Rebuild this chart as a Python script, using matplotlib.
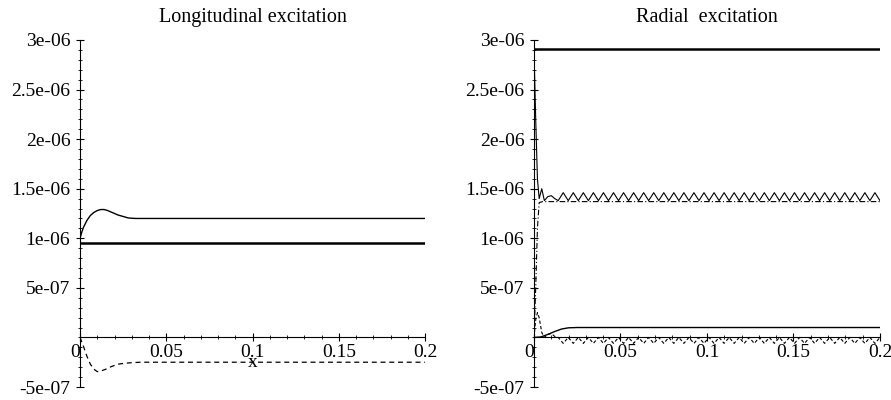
import numpy as np
import matplotlib
matplotlib.use('Agg')
import matplotlib.pyplot as plt
from matplotlib.ticker import MultipleLocator

plt.rcParams['font.family'] = ['Liberation Serif', 'DejaVu Serif']

# values in units of 1e-06
ytick_vals = [-0.5, 0.5, 1.0, 1.5, 2.0, 2.5, 3.0]
ytick_labels = ['-5e-07', '5e-07', '1e-06', '1.5e-06', '2e-06', '2.5e-06', '3e-06']
xtick_vals = [0, 0.05, 0.1, 0.15, 0.2]
xtick_labels = ['0', '0.05', '0.1', '0.15', '0.2']

# longitudinal excitation
long_flat_x = [0, 0.2]
long_flat_y = [0.95, 0.95]
long_solid_x = [0, 0.001, 0.002, 0.004, 0.006, 0.008, 0.010, 0.012, 0.014, 0.016, 0.018,
                0.020, 0.022, 0.025, 0.028, 0.032, 0.04, 0.06, 0.1, 0.15, 0.2]
long_solid_y = [1.0, 1.06, 1.11, 1.18, 1.23, 1.26, 1.28, 1.29, 1.29, 1.28, 1.265,
                1.25, 1.235, 1.22, 1.205, 1.20, 1.20, 1.20, 1.20, 1.20, 1.20]
long_dash_x = [0, 0.002, 0.004, 0.006, 0.008, 0.010, 0.012, 0.015, 0.018, 0.022,
               0.026, 0.030, 0.035, 0.04, 0.06, 0.1, 0.15, 0.2]
long_dash_y = [0.0, -0.09, -0.19, -0.27, -0.32, -0.345, -0.34, -0.32, -0.295, -0.27,
               -0.26, -0.255, -0.25, -0.25, -0.25, -0.25, -0.25, -0.25]

# radial excitation
rad_top_x = [0, 0.2]
rad_top_y = [2.905, 2.905]

rad_arch_x0 = [0, 0.001, 0.002, 0.003, 0.0045, 0.006, 0.008, 0.010, 0.012]
rad_arch_y0 = [2.9, 2.2, 1.6, 1.40, 1.50, 1.38, 1.42, 1.43, 1.40]
rad_arch_y = [1.38, 1.46, 1.38, 1.46, 1.38, 1.46, 1.38, 1.46, 1.38, 1.46, 1.38, 1.46, 1.38,
              1.46, 1.38, 1.46, 1.38, 1.46, 1.38, 1.46, 1.38, 1.46, 1.38, 1.46, 1.38, 1.46,
              1.38, 1.46, 1.38, 1.46, 1.38, 1.46, 1.38, 1.46, 1.38, 1.46, 1.38, 1.46, 1.38,
              1.46, 1.38, 1.46, 1.38, 1.46, 1.38, 1.46, 1.38, 1.46, 1.38, 1.46, 1.38, 1.46,
              1.38, 1.46, 1.38, 1.46, 1.38, 1.46, 1.38, 1.46, 1.38, 1.46, 1.38, 1.46, 1.38]

rad_dashdot_x = [0, 0.001, 0.002, 0.003, 0.005, 0.2]
rad_dashdot_y = [0.0, 0.5, 1.1, 1.36, 1.37, 1.37]

rad_solid_x = [0, 0.004, 0.008, 0.012, 0.016, 0.02, 0.025, 0.03, 0.05, 0.1, 0.15, 0.2]
rad_solid_y = [0.0, 0.005, 0.03, 0.06, 0.085, 0.097, 0.10, 0.10, 0.10, 0.10, 0.10, 0.10]

rad_dash_x0 = [0, 0.001, 0.002, 0.003, 0.0045, 0.006, 0.008, 0.010, 0.012]
rad_dash_y0 = [0.0, 0.18, 0.25, 0.20, 0.05, 0.0, 0.03, 0.04, 0.01]
rad_dash_y = [0.0, -0.06, 0.0, -0.06, 0.0, -0.06, 0.0, -0.06, 0.0, -0.06, 0.0, -0.06, 0.0,
              -0.06, 0.0, -0.06, 0.0, -0.06, 0.0, -0.06, 0.0, -0.06, 0.0, -0.06, 0.0, -0.06,
              0.0, -0.06, 0.0, -0.06, 0.0, -0.06, 0.0, -0.06, 0.0, -0.06, 0.0, -0.06, 0.0,
              -0.06, 0.0, -0.06, 0.0, -0.06, 0.0, -0.06, 0.0, -0.06, 0.0, -0.06, 0.0, -0.06,
              0.0, -0.06, 0.0, -0.06, 0.0, -0.06, 0.0, -0.06, 0.0, -0.06, 0.0, -0.06, 0.0]
osc_x = list(np.linspace(0.014, 0.2, len(rad_arch_y)))

rad_dot_x = [0, 0.2]
rad_dot_y = [0.008, 0.008]

S = 1e-6


def maple_axes(ax, title):
    ax.set_xlim(0, 0.2)
    ax.set_ylim(-0.5 * S, 3.0 * S)
    for s in ['top', 'right']:
        ax.spines[s].set_visible(False)
    ax.spines['left'].set_position(('data', 0))
    ax.spines['bottom'].set_position(('data', 0))
    ax.spines['left'].set_linewidth(0.8)
    ax.spines['bottom'].set_linewidth(0.8)
    ax.set_yticks([v * S for v in ytick_vals])
    ax.set_yticklabels(ytick_labels)
    ax.set_xticks(xtick_vals)
    ax.set_xticklabels(xtick_labels)
    ax.xaxis.get_ticklabels()[0].set_ha('right')
    ax.yaxis.set_minor_locator(MultipleLocator(0.1 * S))
    ax.xaxis.set_minor_locator(MultipleLocator(0.01))
    ax.tick_params(which='major', direction='inout', length=6, width=0.8,
                   labelsize=14, pad=2)
    ax.tick_params(which='minor', direction='inout', length=3, width=0.6)
    ax.tick_params(axis='y', which='major', pad=4)
    ax.set_title(title, fontsize=14.5, pad=13)
    ax.patch.set_visible(False)


fig = plt.figure(figsize=(8.91, 4.0), dpi=100)
ax1 = fig.add_axes([0.0898, 0.0325, 0.3872, 0.8675])
ax2 = fig.add_axes([0.5993, 0.0325, 0.3883, 0.8675])

maple_axes(ax1, 'Longitudinal excitation')
ax1.plot(long_flat_x, [v * S for v in long_flat_y], color='black', lw=1.8)
ax1.plot(long_solid_x, [v * S for v in long_solid_y], color='black', lw=1.0)
ax1.plot(long_dash_x, [v * S for v in long_dash_y], color='black', lw=0.9,
         linestyle=(0, (4, 3)))
ax1.text(0.1, -0.25 * S, 'x', fontsize=14, ha='center', va='center')

maple_axes(ax2, 'Radial  excitation')
ax2.plot(rad_top_x, [v * S for v in rad_top_y], color='black', lw=1.8)
ax2.plot(rad_arch_x0 + osc_x, [v * S for v in rad_arch_y0 + rad_arch_y],
         color='black', lw=0.8)
ax2.plot(rad_dashdot_x, [v * S for v in rad_dashdot_y], color='black', lw=0.8,
         linestyle=(0, (5, 2, 1, 2)))
ax2.plot(rad_solid_x, [v * S for v in rad_solid_y], color='black', lw=1.0)
ax2.plot(rad_dash_x0 + osc_x, [v * S for v in rad_dash_y0 + rad_dash_y],
         color='black', lw=0.8, linestyle=(0, (3, 2)))
ax2.plot(rad_dot_x, [v * S for v in rad_dot_y], color='black', lw=0.7,
         linestyle=(0, (1, 2)))

fig.savefig('out.png', dpi=100)
